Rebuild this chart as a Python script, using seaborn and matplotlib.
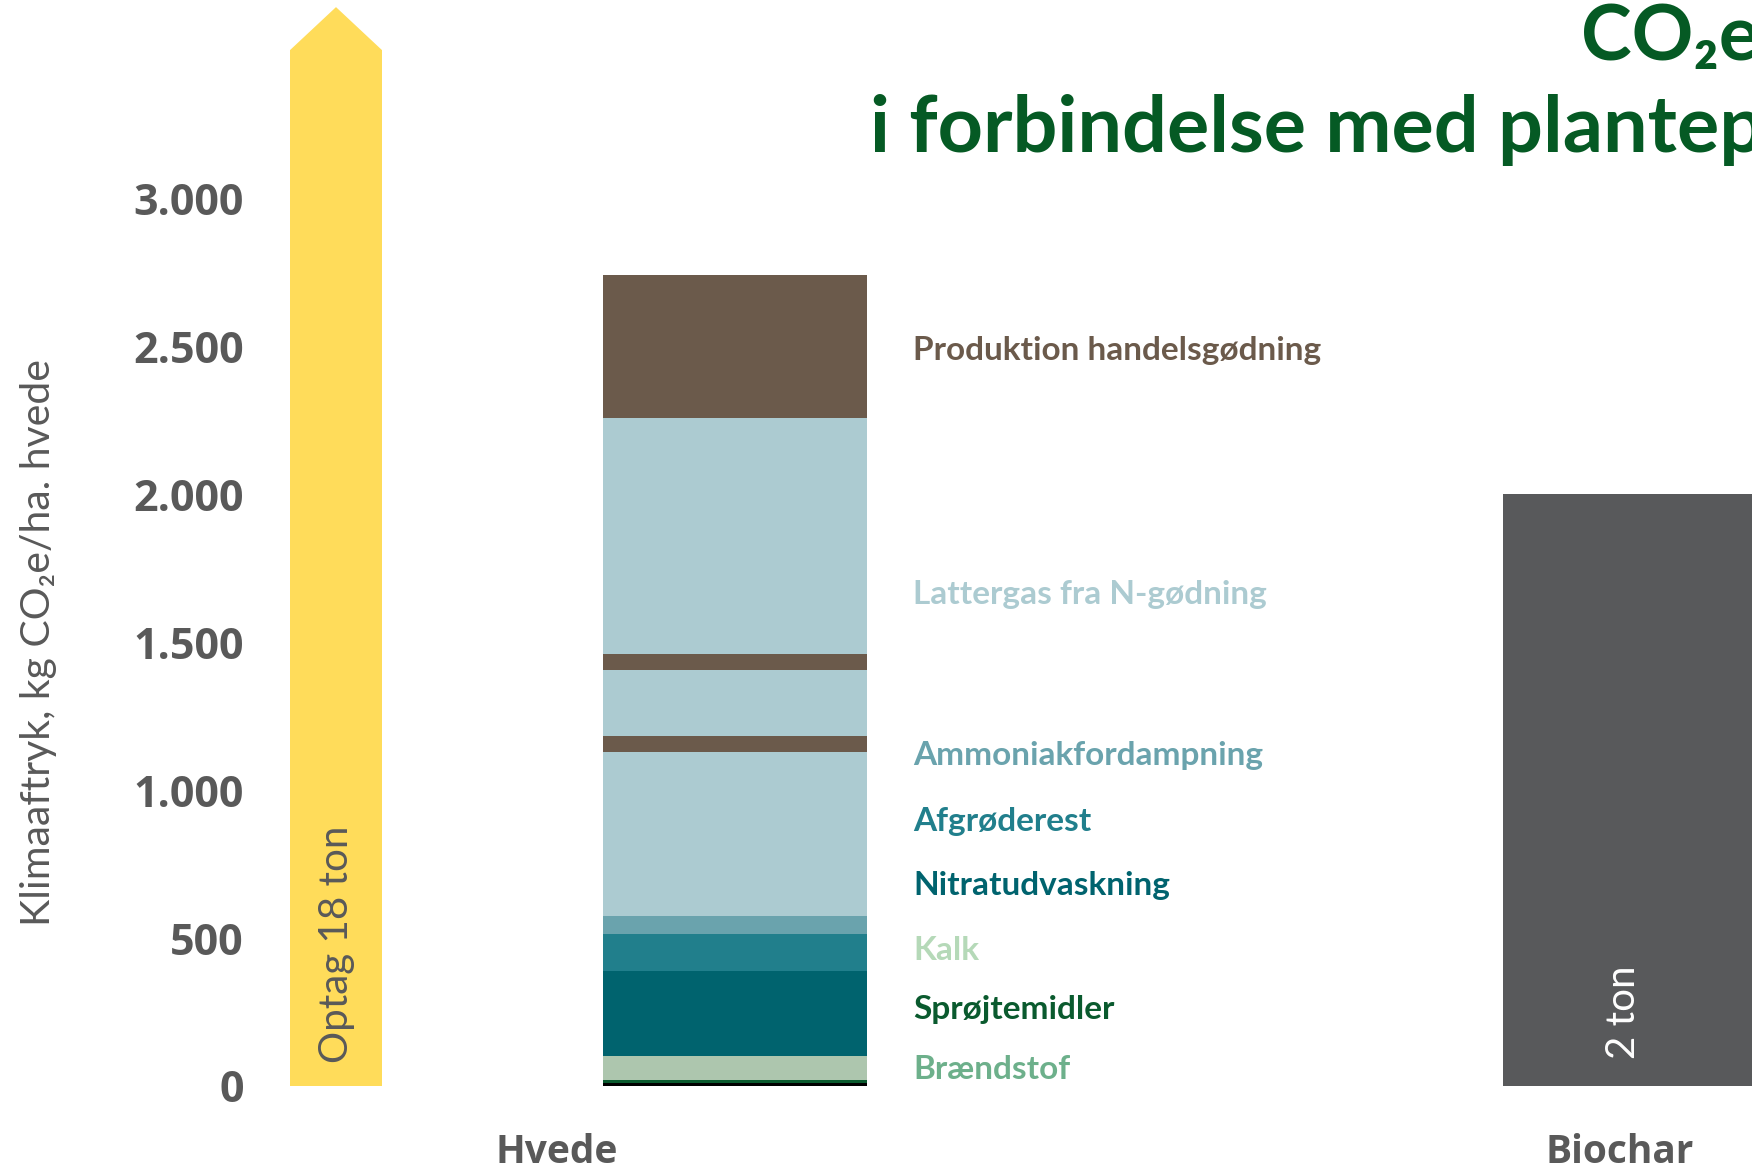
import matplotlib
matplotlib.use("Agg")
import matplotlib.pyplot as plt
from matplotlib import font_manager
import seaborn as sns

# stack for Hvede, bottom to top (kg CO2e/ha)
seg_names = ["Brændstof", "Sprøjtemidler", "Kalk", "Nitratudvaskning", "Afgrøderest",
             "Ammoniakfordampning", "Lattergas fra N-gødning", "Produktion handelsgødning",
             "Lattergas fra N-gødning", "Produktion handelsgødning",
             "Lattergas fra N-gødning", "Produktion handelsgødning"]
seg_values = [10, 10, 80, 290, 122, 61, 557, 51, 226, 51, 800, 483]
seg_colors = ["#000000", "#0a5a2e", "#adc6ae", "#00636e", "#217f8c", "#6aa3ad",
              "#accbd1", "#6b5a4b", "#accbd1", "#6b5a4b", "#accbd1", "#6b5a4b"]

# legend-like labels at the right of the stack, top to bottom
label_names = ["Produktion handelsgødning", "Lattergas fra N-gødning", "Ammoniakfordampning",
               "Afgrøderest", "Nitratudvaskning", "Kalk", "Sprøjtemidler", "Brændstof"]
label_colors = ["#6b5a4b", "#accbd1", "#6aa3ad", "#217f8c", "#00636e", "#b5d9b8",
                "#0a5a2e", "#6db08b"]
label_y = [2486, 1662, 1115, 895, 679, 459, 257, 57]

categories = ["Hvede", "Biochar"]
biochar_value = 2000
uptake_arrow = 3500
yticks = [0, 500, 1000, 1500, 2000, 2500, 3000]

sns.set_theme(style="white")
installed = {f.name for f in font_manager.fontManager.ttflist}
narrow = "Liberation Sans Narrow" if "Liberation Sans Narrow" in installed else "Lato"
plt.rcParams["font.family"] = ["Lato", "DejaVu Sans"]

fig = plt.figure(figsize=(17.52, 11.73), dpi=100)
ax = fig.add_axes([255 / 1752, 87 / 1173, 1 - 255 / 1752, 1086 / 1173])

bar_w = 0.2933
# stacked bar drawn as cumulative layers, tallest first
cum = []
total = 0
for v in seg_values:
    total += v
    cum.append(total)
for c, col in zip(cum[::-1], seg_colors[::-1]):
    sns.barplot(x=["Hvede"], y=[c], order=categories, color=col, width=bar_w,
                saturation=1, errorbar=None, linewidth=0, ax=ax)

sns.barplot(x=["Biochar"], y=[biochar_value], order=categories, color="#58595b",
            width=bar_w, saturation=1, errorbar=None, linewidth=0, ax=ax)

# yellow uptake arrow
ax_x = -0.4433
aw = 0.102
head = 145
ax.bar(ax_x, uptake_arrow, width=aw, color="#ffdc5a", linewidth=0)
ax.fill([ax_x - aw / 2, ax_x, ax_x + aw / 2], [uptake_arrow, uptake_arrow + head, uptake_arrow],
        color="#ffdc5a", linewidth=0)
ax.text(ax_x, 480, "Optag 18 ton", rotation=90, ha="center", va="center",
        fontsize=29, color="#595959")
ax.text(0.9875, 250, "2 ton", rotation=90, ha="center", va="center",
        fontsize=29, color="white")

for name, col, y in zip(label_names, label_colors, label_y):
    ax.text(0.1978, y, name, color=col, fontsize=24, fontweight="bold",
            ha="left", va="center")

ax.set_xlim(-0.5333, 1.13)
ax.set_ylim(0, 3669)
ax.set_yticks(yticks)
ax.set_yticklabels([f"{t:,}".replace(",", ".") for t in yticks],
                   fontsize=31, fontweight="bold", color="#595959",
                   family=["Open Sans", "DejaVu Sans"])
ax.set_xticks([-0.198, 0.983])
ax.set_xticklabels(categories, fontsize=28, fontweight="bold", color="#595959",
                   family=["Open Sans", "DejaVu Sans"])
ax.tick_params(axis="y", length=0, pad=8)
ax.tick_params(axis="x", length=0, pad=34)
ax.set_xlabel("")
ax.set_ylabel("")
for s in ax.spines.values():
    s.set_visible(False)
ax.patch.set_alpha(0)

fig.text(39 / 1752, 1 - 642 / 1173, "Klimaaftryk, kg CO₂e/ha. hvede", rotation=90,
         ha="center", va="center", fontsize=29.5, color="#595959",
         family=[narrow, "DejaVu Sans"])

fig.text(1581 / 1752, 1 - 60 / 1173, "CO₂e", ha="left", va="baseline",
         fontsize=55, fontweight="bold", color="#055a24")
fig.text(870 / 1752, 1 - 152 / 1173, "i forbindelse med plantep", ha="left",
         va="baseline", fontsize=57, fontweight="bold", color="#055a24")

fig.savefig("out.png", dpi=100)
